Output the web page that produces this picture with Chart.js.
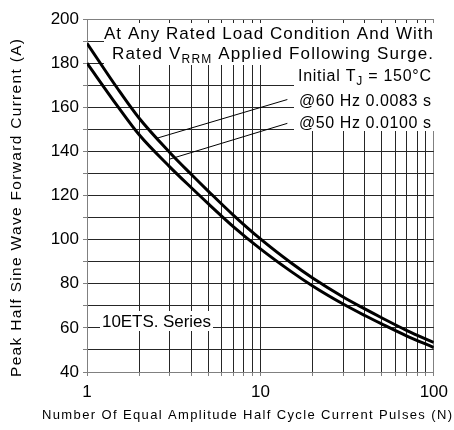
<!DOCTYPE html>
<html><head><meta charset="utf-8">
<script src="https://cdn.jsdelivr.net/npm/chart.js@4/dist/chart.umd.min.js"></script>
<style>html,body{margin:0;padding:0;background:#fff}#wrap{width:454px;height:430px;position:relative}</style>
</head><body><div id="wrap"><canvas id="c"></canvas></div>
<script>
// ---- data ----
const pulsesN     = [1, 1.5, 2, 3, 4, 5, 7, 10, 15, 20, 30, 40, 50, 70, 100];
const current60Hz = [189, 168.5, 155, 139.5, 129.5, 122, 111, 100.3, 89.5, 82.6, 74, 68.6, 64.6, 58.8, 53.4];
const current50Hz = [180, 160.5, 147.5, 133, 123.5, 116.3, 105.8, 95.8, 85.6, 79, 70.8, 65.6, 61.8, 56.3, 51.1];
const leader60N = [2.54, 14.3];
const leader60A = [146, 163.5];
const leader50N = [3.0, 14.3];
const leader50A = [136.5, 152.7];
const xGridTicks = [1,2,3,4,5,6,7,8,9,10,20,30,40,50,60,70,80,90,100];
const xLabelTicks = [1, 10, 100];
const yMin = 40, yMax = 200, yStep = 10, yLabelStep = 20;

const FONT = '"Liberation Sans", Arial, sans-serif';
const pts = (xs, ys) => xs.map((x, i) => ({x, y: ys[i]}));

function drawFitted(ctx, segs, left, right, baseline, size) {
  ctx.save();
  ctx.textAlign = 'left'; ctx.textBaseline = 'alphabetic'; ctx.fillStyle = '#000';
  const fMain = size + 'px ' + FONT, fSub = Math.round(size * 0.72) + 'px ' + FONT;
  const hasLS = 'letterSpacing' in ctx;
  if (hasLS) ctx.letterSpacing = '0px';
  let natural = 0, nch = 0;
  segs.forEach(s => { ctx.font = s.sub ? fSub : fMain; natural += ctx.measureText(s.t).width; nch += s.t.length; });
  const ls = (right - left - natural) / Math.max(1, nch - 1);
  let x = left;
  segs.forEach(s => {
    ctx.font = s.sub ? fSub : fMain;
    if (hasLS) ctx.letterSpacing = ls + 'px';
    ctx.fillText(s.t, x, baseline + (s.sub ? 4 : 0));
    x += ctx.measureText(s.t).width + (hasLS ? 0 : s.t.length * ls);
  });
  ctx.restore();
}

const annot = {
  id: 'annot',
  beforeDatasetsDraw(chart) {
    const ctx = chart.ctx;
    ctx.save();
    ctx.fillStyle = '#fff';
    ctx.fillRect(104, 23, 330, 42);
    ctx.fillRect(294, 65, 140, 66);
    ctx.fillRect(100, 311, 113, 20);
    ctx.restore();
  },
  afterDraw(chart) {
    const ctx = chart.ctx;
    drawFitted(ctx, [{t: 'At Any Rated Load Condition And With'}], 104, 433, 39, 17);
    drawFitted(ctx, [{t: 'Rated V'}, {t: 'RRM', sub: true}, {t: ' Applied Following Surge.'}], 112, 433, 59, 17);
    drawFitted(ctx, [{t: 'Initial T'}, {t: 'J', sub: true}, {t: ' = 150°C'}], 298, 431, 81, 16);
    drawFitted(ctx, [{t: '@60 Hz 0.0083 s'}], 299, 431, 106, 16);
    drawFitted(ctx, [{t: '@50 Hz 0.0100 s'}], 299, 431, 128, 16);
    drawFitted(ctx, [{t: '10ETS. Series'}], 102, 211, 327, 17);
    drawFitted(ctx, [{t: 'Number Of Equal Amplitude Half Cycle Current Pulses (N)'}], 42, 452, 419, 13);
    ctx.save();
    ctx.translate(21, 208);
    ctx.rotate(-Math.PI / 2);
    drawFitted(ctx, [{t: 'Peak Half Sine Wave Forward Current (A)'}], -169, 169, 0, 15.5);
    ctx.restore();
  }
};

const GRID = '#262626', EDGE = '#808080';
new Chart(document.getElementById('c'), {
  type: 'line',
  data: {
    datasets: [
      {label: '60 Hz', data: pts(pulsesN, current60Hz), borderColor: '#000', borderWidth: 3, pointRadius: 0, cubicInterpolationMode: 'monotone', fill: false},
      {label: '50 Hz', data: pts(pulsesN, current50Hz), borderColor: '#000', borderWidth: 3, pointRadius: 0, cubicInterpolationMode: 'monotone', fill: false},
      {label: 'leader60', data: pts(leader60N, leader60A), borderColor: '#000', borderWidth: 1, pointRadius: 0, tension: 0},
      {label: 'leader50', data: pts(leader50N, leader50A), borderColor: '#000', borderWidth: 1, pointRadius: 0, tension: 0}
    ]
  },
  options: {
    responsive: true, maintainAspectRatio: false, animation: false,
    layout: {padding: {left: 0, top: 19, right: 16, bottom: 0}},
    plugins: {legend: {display: false}, tooltip: {enabled: false}},
    scales: {
      x: {
        type: 'logarithmic', min: 1, max: 100,
        afterBuildTicks: s => { s.ticks = xGridTicks.map(v => ({value: v})); },
        afterFit: s => { s.height = 58; },
        ticks: {autoSkip: false, maxRotation: 0, padding: 6, color: '#000', font: {family: FONT, size: 17},
          callback: v => xLabelTicks.includes(v) ? String(v) : ''},
        grid: {color: c => (c.tick && c.tick.value === 100) ? EDGE : GRID, lineWidth: 1, tickLength: 4, tickColor: EDGE},
        border: {display: true, color: EDGE, width: 1}
      },
      y: {
        min: yMin, max: yMax,
        afterFit: s => { s.width = 87; },
        ticks: {stepSize: yStep, autoSkip: false, padding: 4, color: '#000', font: {family: FONT, size: 17},
          callback: v => (v % yLabelStep === 0) ? String(v) : ''},
        grid: {color: c => (c.tick && c.tick.value === yMax) ? EDGE : GRID, lineWidth: 1, tickLength: 4, tickColor: EDGE},
        border: {display: true, color: EDGE, width: 1}
      }
    }
  },
  plugins: [annot]
});
</script></body></html>
